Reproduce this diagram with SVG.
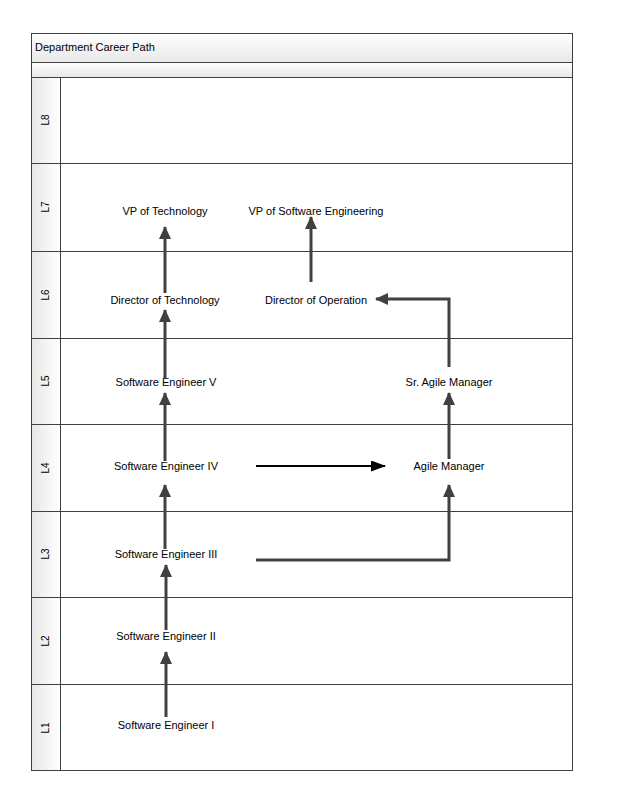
<svg xmlns="http://www.w3.org/2000/svg" width="624" height="808" viewBox="0 0 624 808">
<defs>
<linearGradient id="hdr" x1="0" y1="0" x2="0" y2="1"><stop offset="0" stop-color="#ffffff"/><stop offset="1" stop-color="#e8e8e8"/></linearGradient>
<linearGradient id="lane" x1="0" y1="0" x2="1" y2="0"><stop offset="0" stop-color="#e6e6e6"/><stop offset="1" stop-color="#ffffff"/></linearGradient>
<marker id="ah" markerUnits="userSpaceOnUse" markerWidth="14" markerHeight="12" refX="12" refY="6" orient="auto"><path d="M0,0 L13,6 L0,12 Z" fill="#404040"/></marker>
<marker id="ahb" markerUnits="userSpaceOnUse" markerWidth="16" markerHeight="12" refX="14" refY="5.5" orient="auto"><path d="M0,0 L15,5.5 L0,11 Z" fill="#000"/></marker>
</defs>
<style>
.t{font-family:"Liberation Sans",Arial,sans-serif;font-size:11px;fill:#000;text-anchor:middle}
.ll{font-family:"Liberation Sans",Arial,sans-serif;font-size:10px;fill:#000;text-anchor:middle}
.c{fill:none;stroke:#404040;stroke-width:3;marker-end:url(#ah)}
.ln{stroke:#404040;stroke-width:1;fill:none}
</style>
<rect x="0" y="0" width="624" height="808" fill="#fff"/>
<g id="pool">
<rect x="31" y="33" width="542" height="29" fill="url(#hdr)"/>
<rect x="31" y="62" width="542" height="15" fill="url(#hdr)"/>
<rect x="31" y="77" width="29" height="694" fill="url(#lane)"/>
<text x="35" y="51" style="font-family:'Liberation Sans',Arial,sans-serif;font-size:11px">Department Career Path</text>
<g class="ln">
<rect x="31.5" y="33.5" width="541" height="737"/>
<line x1="31" y1="62.5" x2="573" y2="62.5"/>
<line x1="31" y1="77.5" x2="573" y2="77.5"/>
<line x1="60.5" y1="77" x2="60.5" y2="771"/>
<line x1="31" y1="163.5" x2="573" y2="163.5"/>
<line x1="31" y1="251.5" x2="573" y2="251.5"/>
<line x1="31" y1="338.5" x2="573" y2="338.5"/>
<line x1="31" y1="424.5" x2="573" y2="424.5"/>
<line x1="31" y1="511.5" x2="573" y2="511.5"/>
<line x1="31" y1="597.5" x2="573" y2="597.5"/>
<line x1="31" y1="684.5" x2="573" y2="684.5"/>
</g>
<text class="ll" transform="translate(49,120) rotate(-90)">L8</text>
<text class="ll" transform="translate(49,207) rotate(-90)">L7</text>
<text class="ll" transform="translate(49,295) rotate(-90)">L6</text>
<text class="ll" transform="translate(49,381) rotate(-90)">L5</text>
<text class="ll" transform="translate(49,468) rotate(-90)">L4</text>
<text class="ll" transform="translate(49,554) rotate(-90)">L3</text>
<text class="ll" transform="translate(49,641) rotate(-90)">L2</text>
<text class="ll" transform="translate(49,728) rotate(-90)">L1</text>
</g>
<g id="connectors">
<path class="c" d="M166,717 V652"/>
<path class="c" d="M166,630 V565"/>
<path class="c" d="M165,549 V485"/>
<path class="c" d="M165,461 V393"/>
<path class="c" d="M165,378 V310"/>
<path class="c" d="M165,293 V227"/>
<path class="c" d="M311,282 V217"/>
<path class="c" d="M449,367 V299 H376"/>
<path class="c" d="M449,459 V393"/>
<path class="c" d="M256,560 H449 V485"/>
<path d="M256,466 H385" fill="none" stroke="#000" stroke-width="2" marker-end="url(#ahb)"/>
</g>
<g id="n_vptech"><text class="t" x="165" y="215">VP of Technology</text></g>
<g id="n_vpsw"><text class="t" x="316" y="215">VP of Software Engineering</text></g>
<g id="n_dirtech"><text class="t" x="165" y="304">Director of Technology</text></g>
<g id="n_dirop"><text class="t" x="316" y="304">Director of Operation</text></g>
<g id="n_se5"><text class="t" x="166" y="386">Software Engineer V</text></g>
<g id="n_sram"><text class="t" x="449" y="386">Sr. Agile Manager</text></g>
<g id="n_se4"><text class="t" x="166" y="470">Software Engineer IV</text></g>
<g id="n_am"><text class="t" x="449" y="470">Agile Manager</text></g>
<g id="n_se3"><text class="t" x="166" y="558">Software Engineer III</text></g>
<g id="n_se2"><text class="t" x="166" y="640">Software Engineer II</text></g>
<g id="n_se1"><text class="t" x="166" y="729">Software Engineer I</text></g>
</svg>
